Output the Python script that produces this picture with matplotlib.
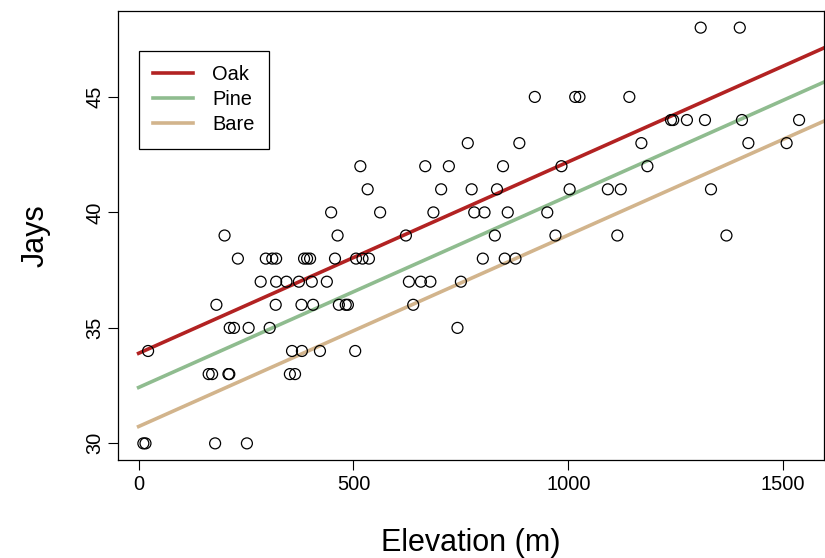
import matplotlib.pyplot as plt
import numpy as np

plt.rcParams['font.family'] = ['Liberation Sans', 'DejaVu Sans']

# elevation (m) and jay counts
elevation = [11, 16, 178, 252,
             163, 171, 209, 211, 352, 364,
             22, 357, 380, 422, 504,
             212, 222, 256, 305, 742,
             181, 319, 379, 406, 466, 482, 487, 639,
             284, 320, 344, 373, 403, 438, 629, 657, 679, 750,
             231, 296, 311, 320, 385, 392, 399, 457, 506, 521, 536, 801, 852, 877,
             200, 463, 622, 829, 970, 1114, 1368,
             448, 562, 686, 781, 805, 859, 951,
             533, 704, 775, 834, 1003, 1092, 1122, 1332,
             516, 667, 722, 848, 984, 1184,
             766, 886, 1170, 1419, 1508,
             1239, 1244, 1276, 1318, 1404, 1537,
             922, 1016, 1026, 1142,
             1308, 1399]
jays = [30, 30, 30, 30,
        33, 33, 33, 33, 33, 33,
        34, 34, 34, 34, 34,
        35, 35, 35, 35, 35,
        36, 36, 36, 36, 36, 36, 36, 36,
        37, 37, 37, 37, 37, 37, 37, 37, 37, 37,
        38, 38, 38, 38, 38, 38, 38, 38, 38, 38, 38, 38, 38, 38,
        39, 39, 39, 39, 39, 39, 39,
        40, 40, 40, 40, 40, 40, 40,
        41, 41, 41, 41, 41, 41, 41, 41,
        42, 42, 42, 42, 42, 42,
        43, 43, 43, 43, 43,
        44, 44, 44, 44, 44, 44,
        45, 45, 45, 45,
        48, 48]

# parallel fitted lines per habitat
habitats = ['Oak', 'Pine', 'Bare']
intercepts = [33.90, 32.42, 30.73]
slope = 0.00829
colors = ['#B22222', '#8FBC8F', '#D2B48C']

fig = plt.figure(figsize=(8.25, 5.58), dpi=100)
ax = fig.add_axes([118 / 825, 1 - 460 / 558, 706 / 825, 449 / 558])

ax.scatter(elevation, jays, s=62, facecolors='none', edgecolors='black',
           linewidths=0.9, zorder=3)

xs = np.array([0, 1700])
for name, a, c in zip(habitats, intercepts, colors):
    ax.plot(xs, a + slope * xs, color=c, lw=2.6, label=name, zorder=2)

ax.set_xlim(-48, 1595)
ax.set_ylim(29.28, 48.72)
ax.set_xticks([0, 500, 1000, 1500])
ax.set_yticks([30, 35, 40, 45])
ax.tick_params(direction='out', length=7, width=0.8, labelsize=14.4)
ax.tick_params(axis='x', pad=3.6)
ax.tick_params(axis='y', pad=2.8)
for lab in ax.get_yticklabels():
    lab.set_rotation(90)
    lab.set_va('center')
for sp in ax.spines.values():
    sp.set_linewidth(0.9)

ax.set_xlabel('Elevation (m)', fontsize=22, labelpad=25)
ax.set_ylabel('Jays', fontsize=22, labelpad=25)

leg = ax.legend(loc='upper left', bbox_to_anchor=(0.0293, 0.911), borderaxespad=0,
                fontsize=14.4, handlelength=2.0, handletextpad=0.95,
                labelspacing=0.3, borderpad=0.72, fancybox=False,
                edgecolor='black', framealpha=1)
leg.get_frame().set_linewidth(0.9)

fig.savefig('out.png', dpi=100)
